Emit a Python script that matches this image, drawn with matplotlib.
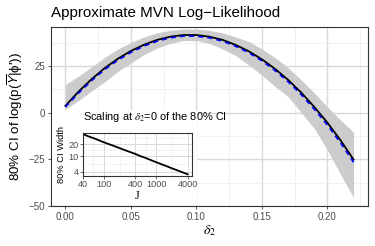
import numpy as np
import matplotlib
matplotlib.use('Agg')
import matplotlib.pyplot as plt
from matplotlib.patches import Rectangle
from matplotlib.ticker import FixedLocator, NullFormatter

plt.rcParams['font.family'] = ['Liberation Sans', 'DejaVu Sans']
plt.rcParams['mathtext.fontset'] = 'stix'

# Main curve: delta_2 grid, point estimate, approximation, 80% CI band
delta2 = [0.00, 0.01, 0.02, 0.03, 0.04, 0.05, 0.06, 0.07, 0.08, 0.09, 0.10, 0.11,
          0.12, 0.13, 0.14, 0.15, 0.16, 0.17, 0.18, 0.19, 0.20, 0.21, 0.22]
loglik = [3.6, 11.2, 17.9, 23.8, 28.8, 33.0, 36.3, 38.9, 40.6, 41.5, 41.5, 40.6,
          38.9, 36.2, 32.8, 28.5, 23.4, 17.5, 10.7, 3.0, -5.4, -14.8, -25.2]
loglik_approx = [3.0, 10.4, 17.1, 23.0, 28.0, 32.2, 35.6, 38.2, 40.0, 40.9, 40.9, 40.0,
                 38.2, 35.5, 32.0, 27.7, 22.5, 16.5, 9.6, 1.8, -6.7, -16.2, -26.6]
ci_lo = [1.8, 6.5, 11.5, 16.5, 22.0, 26.5, 31.0, 34.5, 37.0, 38.5, 38.5, 37.0,
         34.0, 30.5, 25.5, 20.0, 14.0, 8.5, 0.0, -8.5, -20.0, -33.0, -45.5]
ci_hi = [15.0, 19.5, 24.5, 29.5, 34.0, 37.5, 40.5, 42.7, 44.0, 44.7, 44.7, 44.0,
         42.7, 40.5, 38.0, 34.0, 29.5, 24.0, 17.5, 10.5, 3.0, -4.0, -10.5]

# Inset: CI width at delta_2 = 0 against J
J = [40, 50, 70, 100, 140, 200, 300, 400, 500, 600, 1000, 1500, 2000, 3000, 3900]
ci_width = [36.8, 32.5, 27.6, 22.6, 19.2, 16.0, 13.0, 11.3, 9.9, 9.1, 6.9, 5.6, 4.8, 3.9, 3.4]

x_ticks = [0.00, 0.05, 0.10, 0.15, 0.20]
y_ticks = [-50, -25, 0, 25]
inset_x_ticks = [40, 100, 400, 1000, 4000]
inset_y_ticks = [4, 10, 20]

W, H = 375, 246
fig = plt.figure(figsize=(W / 100, H / 100), dpi=100)

def px_box(l, t, r, b):
  return [l / W, 1 - b / H, (r - l) / W, (b - t) / H]

grid_major = '#D9D9D9'
grid_minor = '#EBEBEB'
dark = '#333333'
tick_gray = '#4D4D4D'

ax = fig.add_axes(px_box(51, 27, 368, 206))
ax.fill_between(delta2, ci_lo, ci_hi, color='#CCCCCC', lw=0, zorder=2)
ax.plot(delta2, loglik, color='black', lw=1.3, zorder=3)
ax.plot(delta2, loglik_approx, color='#0000FF', lw=1.2, ls=(0, (3, 2.5)), zorder=4)
ax.set_xlim(-0.011, 0.231)
ax.set_ylim(-50, 45.8)
ax.set_xticks(x_ticks)
ax.set_xticklabels([f'{v:.2f}' for v in x_ticks])
ax.set_yticks(y_ticks)
ax.set_yticklabels([str(v).replace('-', '\u2212') for v in y_ticks])
ax.xaxis.set_minor_locator(FixedLocator([-0.025, 0.025, 0.075, 0.125, 0.175, 0.225]))
ax.yaxis.set_minor_locator(FixedLocator([-37.5, -12.5, 12.5, 37.5]))
ax.grid(True, which='major', color=grid_major, lw=1.0, zorder=0)
ax.grid(True, which='minor', color=grid_minor, lw=0.5, zorder=0)
ax.set_axisbelow(True)
ax.tick_params(which='major', length=2.5, width=0.6, color=dark, labelsize=7.0,
               labelcolor=tick_gray, pad=1.5)
ax.tick_params(which='minor', length=0)
for s in ax.spines.values():
  s.set_color(dark)
  s.set_linewidth(0.8)
ax.set_xlabel(r'$\delta_2$', fontsize=10, labelpad=1)
ax.set_ylabel("80% CI of log(p(" + r"$\overline{\mathsf{Y}}$" + "|\u03d5'))", fontsize=9.6, labelpad=3)
fig.text(51 / W, 1 - 13 / H, 'Approximate MVN Log\u2212Likelihood', fontsize=10.9,
         ha='left', va='center')

# White background behind the inset
fig.add_artist(Rectangle((52 / W, 1 - 205.4 / H), (196.5 - 52) / W, (205.4 - 110) / H,
                         transform=fig.transFigure, facecolor='white', edgecolor='none',
                         zorder=1))

ins = fig.add_axes(px_box(82.7, 133.3, 191.7, 175.7), zorder=2)
ins.plot(J, ci_width, color='black', lw=1.3)
ins.set_xscale('log')
ins.set_yscale('log')
ins.set_xlim(40, 4677)
ins.set_ylim(3.12, 38.4)
ins.xaxis.set_major_locator(FixedLocator(inset_x_ticks))
ins.yaxis.set_major_locator(FixedLocator(inset_y_ticks))
ins.set_xticklabels([str(v) for v in inset_x_ticks])
ins.set_yticklabels([str(v) for v in inset_y_ticks])
ins.xaxis.set_minor_locator(FixedLocator([63, 200, 632, 2000]))
ins.yaxis.set_minor_locator(FixedLocator([6.3, 14.1, 28.3]))
ins.xaxis.set_minor_formatter(NullFormatter())
ins.yaxis.set_minor_formatter(NullFormatter())
ins.grid(True, which='major', color=grid_major, lw=0.7)
ins.grid(True, which='minor', color=grid_minor, lw=0.4)
ins.set_axisbelow(True)
ins.tick_params(which='major', length=2, width=0.5, color=dark, labelsize=6.6,
                labelcolor=tick_gray, pad=1)
ins.tick_params(which='minor', length=0)
for s in ins.spines.values():
  s.set_color(dark)
  s.set_linewidth(0.8)
ins.set_xlabel('J', fontsize=9, family=['Liberation Serif'], labelpad=0.5)
ins.set_ylabel('80% CI Width', fontsize=6.7, labelpad=1.5)
fig.text(82.7 / W, 1 - 117.5 / H, r'Scaling at $\delta_2$=0 of the 80% CI', fontsize=7.9,
         ha='left', va='center', zorder=3)

fig.savefig('out.png', dpi=100)
